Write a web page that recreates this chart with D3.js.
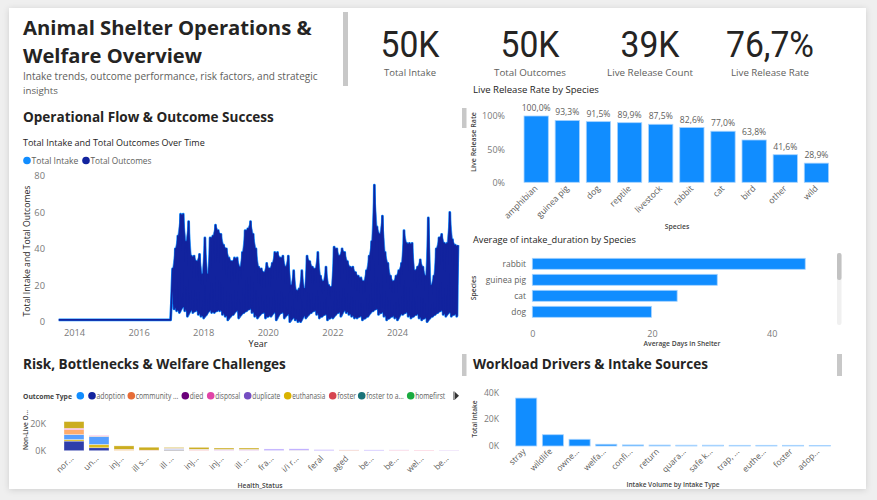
<!DOCTYPE html>
<html><head><meta charset="utf-8">
<script src="https://cdn.jsdelivr.net/npm/d3@7/dist/d3.min.js"></script>
<style>body{margin:0;background:#efefef;overflow:hidden}svg{display:block}</style>
</head><body>
<script>
// ---------------- DATA ----------------
const kpiValues = ["50K", "50K", "39K", "76,7%"];
const kpiLabels = ["Total Intake", "Total Outcomes", "Live Release Count", "Live Release Rate"];

// line chart: flat early period, then monthly peak / low envelope from Jan 2017
const earlyPeriod = [["2013-07-12", 1], ["2016-12-28", 1]];
const seriesStart = "2017-01-01";
const monthlyPeak = [
  29,40,47,59,59,44,55,36,36,33,37,26,
  46,26,46,47,53,50,48,42,40,35,33,35,
  35,30,38,50,51,55,48,40,30,29,27,32,
  29,32,38,38,35,36,30,36,20,28,17,18,
  28,18,36,33,30,29,38,25,22,30,20,19,
  41,40,36,40,38,33,30,30,27,25,24,22,
  28,36,44,75,52,48,58,38,32,25,22,25,
  28,32,50,43,43,43,28,30,34,30,25,57,
  20,25,40,46,48,43,43,60,45,42,42
];
const monthlyLow = [
  10,7,6,5,8,6,3,6,5,6,4,3,
  2,4,6,5,5,6,6,4,3,1,3,4,
  6,2,4,5,6,7,5,3,2,4,5,2,
  3,3,5,1,4,5,2,4,0,2,1,0,
  0,3,2,4,5,6,4,2,3,4,1,2,
  2,4,5,3,6,5,4,3,2,2,3,1,
  2,3,5,6,7,4,5,3,1,2,3,2,
  1,4,4,5,3,2,3,4,2,1,2,0,
  2,3,4,5,6,4,3,5,3,4,3
];
const yearTicks = [2014, 2016, 2018, 2020, 2022, 2024];
const lineTicks = [0, 20, 40, 60, 80];

const lrSpecies = ["amphibian","guinea pig","dog","reptile","livestock","rabbit","cat","bird","other","wild"];
const lrRate = [1.000, 0.933, 0.915, 0.899, 0.875, 0.826, 0.770, 0.638, 0.416, 0.289];
const lrTicks = [0, 0.5, 1];

const durSpecies = ["rabbit","guinea pig","cat","dog"];
const durDays = [45.6, 30.9, 24.2, 19.9];
const durTicks = [0, 20, 40];

const healthStatus = ["nor...","un...","inj...","ill s...","ill ...","inj...","inj...","ill ...","fra...","i/i r...","feral","aged","be...","be...","wel...","be..."];
const legendTypes = ["", "adoption", "community ...", "died", "disposal", "duplicate", "euthanasia", "foster", "foster to a...", "homefirst"];
const legendColors = ["#118DFF","#12239E","#E66C37","#6B007B","#E044A7","#744EC2","#D9B300","#D64550","#197278","#1AAB40"];
// stacked (thousands), bottom to top
const stackKeys   = ["adoption","euthanasia","type 11","type 12","type 14","type 15","type 16"];
const stackColors = ["#12239E","#D9B300","#4092FF","#FFA058","#F472D0","#B5A1FF","#C4A200"];
const nlAdoption   = [7.2,2.2,0,0,0.4,0,0,0,0,0.2,0,0,0,0,0,0];
const nlEuthanasia = [1.2,2.5,0.3,0.2,0.3,0.2,0.2,0.2,0.1,0.1,0,0,0,0,0,0];
const nlType11     = [3.7,6.0,0,0,0.5,0,0,0,0,0,0,0,0,0,0,0];
const nlType12     = [3.7,0.3,0.3,0,0,0.2,0,0,0,0,0,0.4,0,0.3,0.3,0.2];
const nlType14     = [1.0,0.4,0.4,0.2,0.3,0.3,0.2,0.2,0,0,0,0,0,0.2,0.2,0.1];
const nlType15     = [0,0,0,0,0.3,0.4,0.6,0.6,1.2,1.1,0.8,0.2,0.6,0.1,0,0.2];
const nlType16     = [5.0,0,2.6,2.2,0.6,1.4,1.0,1.0,0,0,0,0,0,0,0,0];
const nlTicks = [0, 20000];

const intakeTypes = ["stray","wildlife","owne...","welfa...","confi...","return","quara...","safe k...","trap, ...","euthe...","foster","adop..."];
const intakeCounts = [35700, 8400, 5000, 1300, 800, 700, 600, 600, 500, 500, 500, 400];
const intakeTicks = [0, 20000, 40000];

// ---------------- DRAW ----------------
const F = "'Open Sans','Noto Sans',sans-serif";
const DARK = "#252423", GREY = "#605E5C", TICK = "#7a7a7a", AX = "#444";
const W = 877, H = 500;
const svg = d3.select("body").append("svg").attr("width", W).attr("height", H);
const defs = svg.append("defs");
const sh = defs.append("filter").attr("id","sh").attr("x","-5%").attr("y","-5%").attr("width","110%").attr("height","110%");
sh.append("feDropShadow").attr("dx",0).attr("dy",1).attr("stdDeviation",3).attr("flood-color","#000").attr("flood-opacity",0.14);

svg.append("rect").attr("width",W).attr("height",H).attr("fill","#efefef");
svg.append("rect").attr("x",9).attr("y",8).attr("width",857).attr("height",481).attr("fill","#fff").attr("filter","url(#sh)");

function fit(sel, w){ const n = sel.node(); const c = n.getComputedTextLength(); if (c>0) sel.attr("font-size", parseFloat(sel.attr("font-size"))*w/c); return sel; }
function txt(x,y,s,size,opts={}){
  const t = svg.append("text").attr("x",x).attr("y",y).text(s).attr("font-family",opts.family||F)
    .attr("font-size",size).attr("fill",opts.fill||DARK).attr("font-weight",opts.weight||400)
    .attr("text-anchor",opts.anchor||"start");
  if (opts.rotate!==undefined) t.attr("transform",`rotate(${opts.rotate},${x},${y})`);
  if (opts.fit) fit(t, opts.fit);
  return t;
}
function grayBar(x,y,w,h,c){ svg.append("rect").attr("x",x).attr("y",y).attr("width",w).attr("height",h).attr("fill",c||"#c8c8c8"); }

// header
txt(23,34.5,"Animal Shelter Operations &",20,{weight:700,fit:289});
txt(23,63,"Welfare Overview",20,{weight:700,fit:179});
txt(23,80,"Intake trends, outcome performance, risk factors, and strategic",12,{fill:GREY,fit:295});
txt(23,93.5,"insights",12,{fill:GREY,fit:35});
grayBar(343,12,5,74);

// KPIs
const kpiX = [410, 530, 650, 770];
const kpiW = [59, 59, 59, 88];
const kpiLW = [52, 72, 86, 78];
kpiValues.forEach((v,i)=>{
  svg.append("text").attr("x",kpiX[i]).attr("y",57).attr("text-anchor","middle")
    .attr("font-family","Roboto,'DejaVu Sans',sans-serif").attr("font-size",36).attr("fill",DARK)
    .attr("textLength",kpiW[i]).attr("lengthAdjust","spacingAndGlyphs").text(v);
  txt(kpiX[i],75.5,kpiLabels[i],11,{fill:GREY,anchor:"middle",fit:kpiLW[i]});
});

// Section titles
txt(23,122,"Operational Flow & Outcome Success",14.5,{weight:700,fit:251});
txt(23,369,"Risk, Bottlenecks & Welfare Challenges",14.5,{weight:700,fit:263});
txt(473,369,"Workload Drivers & Intake Sources",14.5,{weight:700,fit:235});
grayBar(462,354,4.5,22);
grayBar(837,354,5,22);

// ---------- Line chart ----------
txt(23,146,"Total Intake and Total Outcomes Over Time",10,{fit:182});
(function(){
  const lx = [23, 82];
  [["Total Intake","#118DFF",47],["Total Outcomes","#12239E",61]].forEach(([n,c,w],i)=>{
    svg.append("circle").attr("cx",lx[i]+4).attr("cy",160.5).attr("r",3.8).attr("fill",c);
    txt(lx[i]+8.5,164,n,9.3,{fill:GREY,fit:w});
  });
})();
const xT = d3.scaleTime().domain([new Date(2014,0,1), new Date(2024,0,1)]).range([74,397]);
const yL = d3.scaleLinear().domain([0,80]).range([321.7,176]);
const gy = svg.append("g").attr("transform","translate(48,0)").call(d3.axisLeft(yL).tickValues(lineTicks).tickSize(0).tickPadding(3));
gy.select(".domain").remove();
gy.selectAll("text").attr("font-family",F).attr("font-size",9.3).attr("fill",TICK);
const gx = svg.append("g").attr("transform","translate(0,326)").call(d3.axisBottom(xT).tickValues(yearTicks.map(y=>new Date(y,0,1))).tickFormat(d3.timeFormat("%Y")).tickSize(0).tickPadding(3));
gx.select(".domain").remove();
gx.selectAll("text").attr("font-family",F).attr("font-size",9.3).attr("fill",TICK);
txt(30,251,"Total Intake and Total Outcomes",11,{anchor:"middle",rotate:-90,fit:131});
txt(258,347,"Year",9,{anchor:"middle"});

const s0 = new Date(seriesStart);
const monthPts = monthlyPeak.map((p,i)=>({
  dl: new Date(s0.getFullYear(), s0.getMonth()+i, 6), dp: new Date(s0.getFullYear(), s0.getMonth()+i, 20),
  lo: monthlyLow[i], hi: p }));
const pts = earlyPeriod.map(([d,v])=>({d:new Date(d), v}));
monthPts.forEach(m=>{ pts.push({d:m.dl, v:m.lo}); pts.push({d:m.dp, v:m.hi}); });
const line = d3.line().x(d=>xT(d.d)).y(d=>yL(d.v));
// monthly range envelope of daily values
const area = d3.area().x(d=>xT(d.dp)).y0(d=>yL(d.lo)).y1(d=>yL(d.hi));
svg.append("path").datum(pts).attr("d",line).attr("fill","none").attr("stroke","#118DFF").attr("stroke-width",2.8).attr("stroke-linejoin","round");
svg.append("path").datum(monthPts).attr("d",area).attr("fill","#12239E").attr("stroke","#118DFF").attr("stroke-width",0.6);
svg.append("path").datum(pts).attr("d",line).attr("fill","none").attr("stroke","#12239E").attr("stroke-width",1.6).attr("stroke-linejoin","round");

// ---------- Live Release Rate by Species ----------
const loc = d3.formatLocale({decimal:",",thousands:".",grouping:[3],currency:["","€"]});
txt(473,93,"Live Release Rate by Species",10,{fit:126});
grayBar(462,108,4.5,20);
const xLR = d3.scaleBand().domain(lrSpecies).range([520.6,832]).paddingInner(0.22).paddingOuter(0.11);
const yLR = d3.scaleLinear().domain([0,1]).range([182.3,116]);
const gLRy = svg.append("g").attr("transform","translate(508,0)").call(d3.axisLeft(yLR).tickValues(lrTicks).tickFormat(d3.format(".0%")).tickSize(0).tickPadding(3));
gLRy.select(".domain").remove();
gLRy.selectAll("text").attr("font-family",F).attr("font-size",9).attr("fill",TICK);
svg.append("g").selectAll("rect").data(lrSpecies).join("rect")
  .attr("x",d=>xLR(d)).attr("width",xLR.bandwidth())
  .attr("y",(d,i)=>yLR(lrRate[i])).attr("height",(d,i)=>yLR(0)-yLR(lrRate[i]))
  .attr("fill","#118DFF").attr("stroke","#a6d3ff").attr("stroke-width",0.8);
svg.append("g").selectAll("text").data(lrSpecies).join("text")
  .attr("x",d=>xLR(d)+xLR.bandwidth()/2).attr("y",(d,i)=>yLR(lrRate[i])-5)
  .attr("text-anchor","middle").attr("font-family",F).attr("font-size",8.6).attr("fill",GREY)
  .text((d,i)=>loc.format(".1%")(lrRate[i]));
svg.append("g").selectAll("text").data(lrSpecies).join("text")
  .attr("transform",d=>`translate(${xLR(d)+xLR.bandwidth()/2+2},189) rotate(-45)`)
  .attr("text-anchor","end").attr("font-family",F).attr("font-size",8.6).attr("fill",GREY).text(d=>d);
txt(476,142,"Live Release Rate",7.8,{anchor:"middle",rotate:-90,weight:600,fill:AX,fit:60});
txt(677,228.5,"Species",7.8,{anchor:"middle",weight:600,fill:AX,fit:24.5});

// ---------- Average intake duration ----------
txt(473,243,"Average of intake_duration by Species",10,{fit:163});
const yD = d3.scaleBand().domain(durSpecies).range([255.9,319.7]).paddingInner(0.3125).paddingOuter(0.15);
const xD = d3.scaleLinear().domain([0,48]).range([532.3,819.6]);
svg.append("g").selectAll("rect").data(durSpecies).join("rect")
  .attr("x",xD(0)).attr("y",d=>yD(d)).attr("height",yD.bandwidth())
  .attr("width",(d,i)=>xD(durDays[i])-xD(0))
  .attr("fill","#118DFF").attr("stroke","#a6d3ff").attr("stroke-width",0.8);
const gDy = svg.append("g").attr("transform","translate(529,0)").call(d3.axisLeft(yD).tickSize(0).tickPadding(3));
gDy.select(".domain").remove();
gDy.selectAll("text").attr("font-family",F).attr("font-size",8.4).attr("fill",GREY);
const gDx = svg.append("g").attr("transform","translate(0,329)").call(d3.axisBottom(xD).tickValues(durTicks).tickSize(0).tickPadding(2));
gDx.select(".domain").remove();
gDx.selectAll("text").attr("font-family",F).attr("font-size",9).attr("fill",TICK);
txt(682,346,"Average Days in Shelter",7.8,{anchor:"middle",weight:600,fill:AX,fit:77});
txt(476,288,"Species",7.8,{anchor:"middle",rotate:-90,weight:600,fill:AX,fit:24.5});
svg.append("rect").attr("x",837).attr("y",253).attr("width",4.5).attr("height",72).attr("rx",2).attr("fill","#f0f0f0");
svg.append("rect").attr("x",837).attr("y",253).attr("width",4.5).attr("height",27).attr("rx",2).attr("fill","#c2c2c2");

// ---------- Stacked Non-Live outcomes ----------
(function(){
  txt(23,399,"Outcome Type",8.3,{weight:700,fill:AX,fit:49});
  const dotX = [80.3, 92, 131.3, 185.3, 210.7, 247.7, 287.7, 332.7, 361.7, 410.7];
  const textW = [0, 28.7, 42.6, 13.5, 25, 28, 33, 19, 37.6, 30];
  legendTypes.forEach((n,i)=>{
    svg.append("circle").attr("cx",dotX[i]).attr("cy",395.7).attr("r",3.8).attr("fill",legendColors[i]);
    if (n) svg.append("text").attr("x",dotX[i]+4.5).attr("y",399).attr("font-family",F).attr("font-size",8.2)
      .attr("fill",GREY).attr("textLength",textW[i]).attr("lengthAdjust","spacingAndGlyphs").text(n);
  });
  svg.append("path").attr("d","M455,392 L459,395.7 L455,399.4 Z").attr("fill","#333");
  svg.append("rect").attr("x",453.5).attr("y",391.5).attr("width",1).attr("height",8.5).attr("fill","#333");
})();
const stackArrays = [nlAdoption,nlEuthanasia,nlType11,nlType12,nlType14,nlType15,nlType16];
const stackRows = healthStatus.map((h,i)=>{ const o={h}; stackKeys.forEach((k,j)=>o[k]=stackArrays[j][i]*1000); return o; });
const stacked = d3.stack().keys(stackKeys)(stackRows);
const xH = d3.scaleBand().domain(d3.range(healthStatus.length)).range([61.5,461.5]).paddingInner(0.2).paddingOuter(0.1);
const yH = d3.scaleLinear().domain([0,20000]).range([450.7,424]);
svg.append("g").selectAll("g").data(stacked).join("g").attr("fill",(d,i)=>stackColors[i])
  .selectAll("rect").data(d=>d).join("rect")
  .attr("x",(d,i)=>xH(i)).attr("width",xH.bandwidth())
  .attr("y",d=>yH(d[1])).attr("height",d=>Math.max(0,yH(d[0])-yH(d[1])))
  .attr("stroke","#fff").attr("stroke-opacity",0.55).attr("stroke-width",0.6).attr("fill-opacity",0.88);
const gHy = svg.append("g").attr("transform","translate(49,0)").call(d3.axisLeft(yH).tickValues(nlTicks).tickFormat(d=>d/1000+"K").tickSize(0).tickPadding(3));
gHy.select(".domain").remove();
gHy.selectAll("text").attr("font-family",F).attr("font-size",9).attr("fill",TICK);
svg.append("g").selectAll("text").data(healthStatus).join("text")
  .attr("transform",(d,i)=>`translate(${xH(i)+xH.bandwidth()/2},459) rotate(-45)`)
  .attr("text-anchor","end").attr("font-family",F).attr("font-size",8.4).attr("fill",GREY).text(d=>d);
txt(28,430,"Non-Live O...",8,{anchor:"middle",rotate:-90,weight:600,fill:AX,fit:40});
txt(260,488,"Health_Status",7.8,{anchor:"middle",weight:600,fill:AX,fit:45});

// ---------- Intake Volume by Intake Type ----------
const xI = d3.scaleBand().domain(intakeTypes).range([513,833]).paddingInner(0.21).paddingOuter(0.1);
const yI = d3.scaleLinear().domain([0,40000]).range([446,392.3]);
svg.append("g").selectAll("rect").data(intakeTypes).join("rect")
  .attr("x",d=>xI(d)).attr("width",xI.bandwidth())
  .attr("y",(d,i)=>yI(intakeCounts[i])).attr("height",(d,i)=>yI(0)-yI(intakeCounts[i]))
  .attr("fill","#118DFF").attr("stroke","#a6d3ff").attr("stroke-width",0.8);
const gIy = svg.append("g").attr("transform","translate(502,0)").call(d3.axisLeft(yI).tickValues(intakeTicks).tickFormat(d=>d/1000+"K").tickSize(0).tickPadding(3));
gIy.select(".domain").remove();
gIy.selectAll("text").attr("font-family",F).attr("font-size",8.6).attr("fill",TICK);
svg.append("g").selectAll("text").data(intakeTypes).join("text")
  .attr("transform",d=>`translate(${xI(d)+xI.bandwidth()/2},452) rotate(-45)`)
  .attr("text-anchor","end").attr("font-family",F).attr("font-size",8.4).attr("fill",GREY).text(d=>d);
txt(477,419,"Total Intake",7.5,{anchor:"middle",rotate:-90,weight:600,fill:AX,fit:37});
txt(673,487,"Intake Volume by Intake Type",7.8,{anchor:"middle",weight:600,fill:AX,fit:93});
</script>
</body></html>
